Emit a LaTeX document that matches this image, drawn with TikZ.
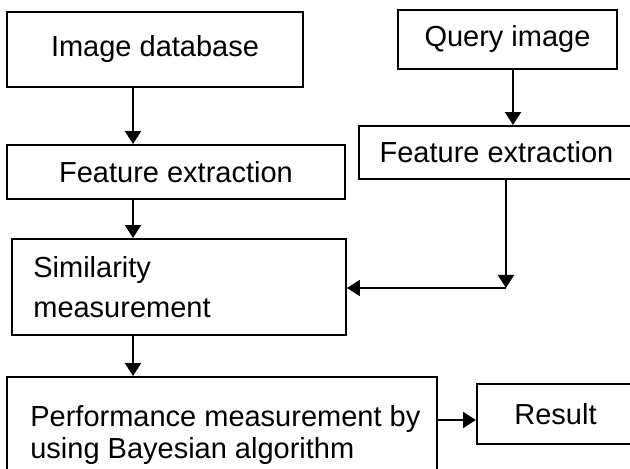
\documentclass[tikz,border=0pt]{standalone}
\usepackage{fontspec}
\setmainfont{Liberation Sans}
\usetikzlibrary{arrows.meta}

\begin{document}
\begin{tikzpicture}[
    box/.style={rectangle, draw, line width=1.1pt, inner sep=0pt},
    boxtext/.style={align=left, inner sep=0pt, anchor=base west},
    arrow/.style={-{Triangle[length=0.26cm, width=0.32cm]}, line width=1.1pt},
    every node/.style={font=\fontsize{16.5}{18}\selectfont}
]
    \useasboundingbox (0,0) rectangle (12.6,-9.38);

    % Image database side
    \node[box, minimum width=5.92cm, minimum height=1.50cm] (imgdb) at (3.10,-0.99) {Image database};
    \node[box, minimum width=6.76cm, minimum height=1.08cm] (feat1) at (3.52,-3.44) {Feature extraction};

    % Query side
    \node[box, minimum width=4.38cm, minimum height=1.18cm] (query) at (10.15,-0.79) {Query image};
    \node[box, minimum width=5.50cm, minimum height=1.06cm] (feat2) at (9.93,-3.05) {Feature extraction};

    % Similarity and performance
    \node[box, minimum width=6.68cm, minimum height=1.92cm] (sim) at (3.58,-5.74) {};
    \node[boxtext] (simtext) at (0.66,-6.34) {Similarity\\[0.16cm]measurement};
    \node[box, minimum width=8.60cm, minimum height=2.06cm] (perf) at (4.44,-8.57) {};
    \node[boxtext] (perftext) at (0.60,-9.16) {Performance measurement by\\using Bayesian algorithm};
    \node[box, minimum width=3.14cm, minimum height=1.20cm] (result) at (11.11,-8.28) {Result};

    % Guide lines for the arrows
    \coordinate (spine) at (2.66,0);
    \coordinate (qspine) at (10.26,0);
    \coordinate (corner) at (10.12,-5.76);
    \coordinate (resline) at (0,-8.40);

    % Arrows
    \draw[arrow] (imgdb.south -| spine) -- (feat1.north -| spine);
    \draw[arrow] (feat1.south -| spine) -- (sim.north -| spine);
    \draw[arrow] (sim.south -| spine) -- (perf.north -| spine);
    \draw[arrow] (query.south -| qspine) -- (feat2.north -| qspine);
    \draw[arrow] (feat2.south -| corner) -- (corner);
    \draw[arrow] (corner) -- (sim.east |- corner);
    \draw[arrow] (perf.east |- resline) -- (result.west |- resline);

\end{tikzpicture}
\end{document}
